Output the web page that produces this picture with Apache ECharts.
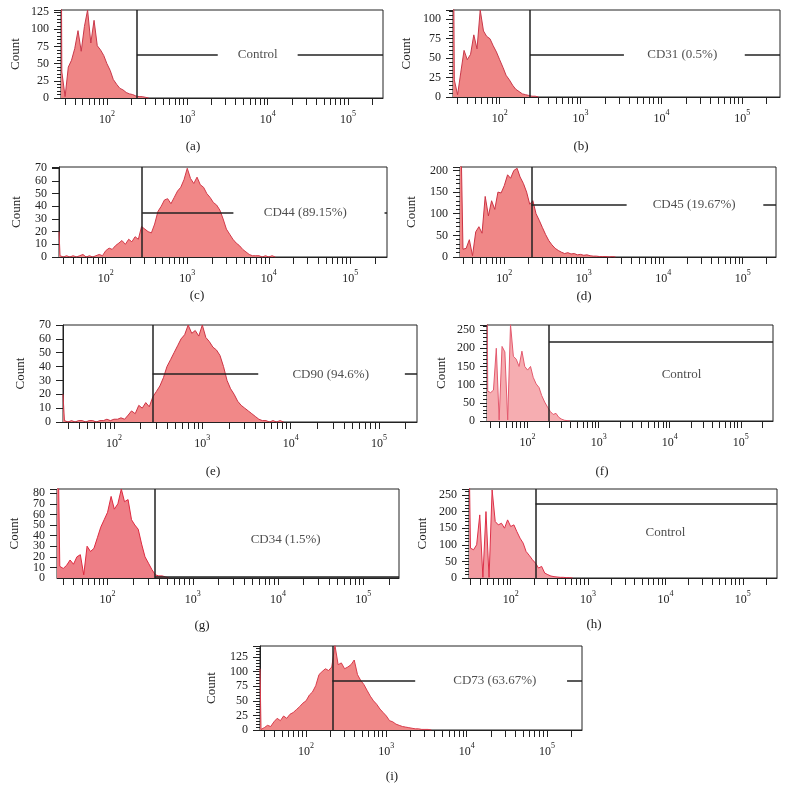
<!DOCTYPE html>
<html><head><meta charset="utf-8">
<script src="https://cdn.jsdelivr.net/npm/echarts@6/dist/echarts.min.js"></script>
<style>html,body{margin:0;padding:0;background:#fff}#c{width:788px;height:803px}</style>
</head><body><div id="c"></div><script>
// fluorescence channel positions (bin centres)
const bins = [27.5,30.2,33.1,36.3,39.8,43.7,47.9,52.5,57.5,63.1,69.2,75.9,83.2,91.2,100,110,120,132,145,158,174,191,209,229,251,275,302,331,363,398,437,479,525,575,631,692,759,832,912,1000,1096,1202,1318,1445,1585,1738,1905,2089,2291,2512,2754,3020,3311,3631,3981,4365,4786,5248,5754,6310,6918,7586,8318,9120,10000,10965,12023];

const countsA = [38,2,45,55,72,98,68,104,128,80,113,76,70,62,50,40,27,20,14,12,8,6,5,3,2,2,1,0];
const countsB = [22,3,32,60,48,55,80,62,112,85,78,75,66,58,48,38,28,22,15,10,7,4,3,2,1,1,0];
const countsC = [1,0,1,0,1,0,1,2,0,1,0,1,2,1,5,7,6,9,11,13,10,14,12,16,14,24,22,20,19,26,36,40,45,46,42,47,52,55,61,70,62,58,63,57,55,50,47,43,41,37,30,22,18,14,11,9,6,4,2,1,1,1,0,1,0,1,0];
const countsD = [15,18,20,40,3,58,70,55,140,95,130,110,150,148,165,190,182,200,205,185,170,150,122,130,100,85,68,52,38,28,20,15,11,8,10,7,8,5,6,4,5,3,2,2,1,1,1,0,1,0];
const countsE = [1,0,1,0,1,1,0,1,1,0,1,1,2,1,2,2,3,2,5,8,6,12,10,14,11,18,22,26,32,40,45,50,55,60,63,70,64,66,62,70,61,58,54,52,48,40,30,24,20,15,12,10,8,6,4,2,1,1,0,1,0,1,0];
const countsF = [82,78,85,200,3,205,190,3,265,178,170,150,192,150,140,150,120,102,92,70,52,38,26,18,21,10,5,2,1,0];
const countsG = [11,9,12,17,13,20,22,3,30,25,28,38,48,55,62,77,65,70,84,72,74,55,50,46,32,20,14,8,3,2,2,1,0];
const countsH = [50,90,85,100,190,2,200,2,265,170,160,165,150,175,155,160,140,120,105,80,68,55,45,30,35,15,10,6,4,3,2,2,1,1,0];
const countsI = [1,4,8,6,14,20,16,24,20,27,30,35,40,46,50,60,65,76,95,100,105,102,108,145,112,115,105,108,112,120,95,85,78,68,58,50,44,36,30,24,16,14,10,8,6,5,4,3,2,2,1,1,1,0];
const allCounts = [countsA,countsB,countsC,countsD,countsE,countsF,countsG,countsH,countsI];
// off-scale count in the lowest channel (left edge)
const edgeCounts = [300,300,20,400,20,400,200,400,105];

const panelLetters = ['(a)','(b)','(c)','(d)','(e)','(f)','(g)','(h)','(i)'];
const markerNames = ['Control','CD31 (0.5%)','CD44 (89.15%)','CD45 (19.67%)','CD90 (94.6%)','Control','CD34 (1.5%)','Control','CD73 (63.67%)'];
const gateX = [236,237,280,219,274,200,361,210,213];
const gateY = [63.5,54,35.2,120,34.5,218,1.5,224,84];
const gapStart = [2393,3436,3681,3467,4295,null,null,null,2286];
const gapEnd = [23600,107150,263000,182000,196000,null,null,null,177800];
const labelX = [7516,18070,28050,24550,28380,14660,12300,10000,22390];
const labelY = [63.5,54,35.2,120,34.5,129,36.7,137,84];
const yMaxes = [128,112,71,208,70,264,84,268,144];
const yIntervals = [25,25,10,50,10,50,10,50,25];
const yMinor = [true,true,false,true,false,true,false,true,true];
const xMins = [26.85,26.5,26.7,27.7,26.5,26.85,25.5,28.9,26.7];
const xMaxes = [272000,292000,282000,263000,269000,284000,263000,277000,273000];
const decadeTicks = [100,1000,10000,100000];
const allTicks = [30,40,50,60,70,80,90,100,200,300,400,500,600,700,800,900,1000,2000,3000,4000,5000,6000,7000,8000,9000,10000,20000,30000,40000,50000,60000,70000,80000,90000,100000,200000];

const layout = [
 {l:61,t:10,w:322,h:88,gap:39,sx:193,sy:147},
 {l:453,t:10,w:327,h:87,gap:40,sx:581,sy:147},
 {l:59,t:167,w:328,h:90,gap:36,sx:197,sy:296},
 {l:460,t:167,w:316,h:90,gap:42,sx:584,sy:297},
 {l:63,t:325,w:354,h:97,gap:36,sx:213,sy:472},
 {l:487,t:325,w:286,h:96,gap:39,sx:602,sy:472},
 {l:57,t:489,w:342,h:89,gap:36,sx:202,sy:626},
 {l:469,t:489,w:308,h:89,gap:40,sx:594,sy:625},
 {l:260,t:646,w:322,h:84,gap:42,sx:392,sy:777}
];
const fills = ['#ef8585','#ef8585','#f18787','#f08787','#f18888','#f6adb1','#ee7e86','#f29aa0','#f08888'];
const strokes = ['#c8384a','#c8384a','#d23a4a','#cc3344','#cc3344','#e35a6e','#dd2a40','#dd3048','#d83c4c'];
const FONT = '"Liberation Serif", "DejaVu Serif", serif';
const INK = '#222';

const grids = [], xAxes = [], yAxes = [], series = [], graphics = [];
const extraY = [];
layout.forEach((L, i) => {
  grids.push({left:L.l, top:L.t, width:L.w, height:L.h, show:true, borderColor:INK, borderWidth:1, backgroundColor:'transparent'});
  xAxes.push({
    type:'log', logBase:10, gridIndex:i, min:xMins[i], max:xMaxes[i],
    axisLine:{show:true, lineStyle:{color:INK}},
    axisTick:{show:true, length:7, customValues:allTicks, lineStyle:{color:INK}},
    axisLabel:{show:true, customValues:decadeTicks, margin:12, color:INK, fontFamily:FONT, fontSize:12, hideOverlap:false,
      formatter:v => '{b|10}{s|' + Math.round(Math.log10(v)) + '}',
      rich:{b:{fontFamily:FONT, fontSize:12, color:INK, lineHeight:16, verticalAlign:'bottom'},
            s:{fontFamily:FONT, fontSize:8, color:INK, lineHeight:16, verticalAlign:'top'}}},
    splitLine:{show:false}, minorTick:{show:false}
  });
  const iv = yIntervals[i];
  const tight = (L.h / (yMaxes[i] / iv)) < 12; // labels closer than the font height
  yAxes.push({
    type:'value', gridIndex:i, position:'left', min:0, max:yMaxes[i], interval:iv,
    name:'Count', nameLocation:'middle', nameGap:L.gap, nameRotate:90,
    nameTextStyle:{fontFamily:FONT, fontSize:13, color:INK},
    axisLine:{show:true, lineStyle:{color:INK}},
    axisTick:{show:true, length:7, lineStyle:{color:INK}},
    minorTick:{show:yMinor[i], splitNumber:5, length:4, lineStyle:{color:INK}},
    splitLine:{show:false}, minorSplitLine:{show:false},
    axisLabel:{margin:12, color:INK, fontFamily:FONT, fontSize:12, showMinLabel:!tight, showMaxLabel:true, hideOverlap:false,
      formatter:v => (v % iv === 0 ? String(v) : '')}
  });
  if (tight) {
    extraY.push({
      type:'value', gridIndex:i, position:'left', offset:0, min:0, max:yMaxes[i], interval:iv,
      axisLine:{show:false}, axisTick:{show:false}, splitLine:{show:false},
      axisLabel:{margin:12, color:INK, fontFamily:FONT, fontSize:12, showMinLabel:true, showMaxLabel:false,
        formatter:v => (v === 0 ? '0' : '')}
    });
  }
  const data = [[xMins[i], edgeCounts[i]]];
  allCounts[i].forEach((c, k) => { if (bins[k] > xMins[i]) data.push([bins[k], c]); });
  const ml = [
    [{coord:[gateX[i], 0]}, {coord:[gateX[i], yMaxes[i]]}],
    [{coord:[gateX[i], gateY[i]]}, {coord:[gapStart[i] === null ? xMaxes[i] : gapStart[i], gateY[i]]}]
  ];
  if (gapEnd[i] !== null) ml.push([{coord:[gapEnd[i], gateY[i]]}, {coord:[xMaxes[i], gateY[i]]}]);
  series.push({
    type:'line', xAxisIndex:i, yAxisIndex:i, data, symbol:'none', clip:true, silent:true,
    lineStyle:{color:strokes[i], width:1}, areaStyle:{color:fills[i], opacity:1},
    markLine:{symbol:['none','none'], silent:true, animation:false, label:{show:false},
      lineStyle:{color:INK, width:1.5, type:'solid'}, emphasis:{disabled:true}, data:ml}
  });
  series.push({
    type:'scatter', xAxisIndex:i, yAxisIndex:i, data:[[labelX[i], labelY[i]]], symbolSize:1, silent:true,
    itemStyle:{color:'rgba(0,0,0,0)'},
    label:{show:true, position:'inside', formatter:markerNames[i], color:INK, fontFamily:FONT, fontSize:13,
      backgroundColor:'#fff', padding:[0,2]}
  });
  graphics.push({type:'text', x:L.sx, y:L.sy, silent:true,
    style:{text:panelLetters[i], align:'center', verticalAlign:'middle', textAlign:'center', textVerticalAlign:'middle',
      font:'13px ' + FONT, fill:INK}});
});

const chart = echarts.init(document.getElementById('c'), null, {renderer:'canvas'});
chart.setOption({animation:false, backgroundColor:'#fff', grid:grids, xAxis:xAxes, yAxis:yAxes.concat(extraY), series, graphic:graphics});
</script></body></html>
